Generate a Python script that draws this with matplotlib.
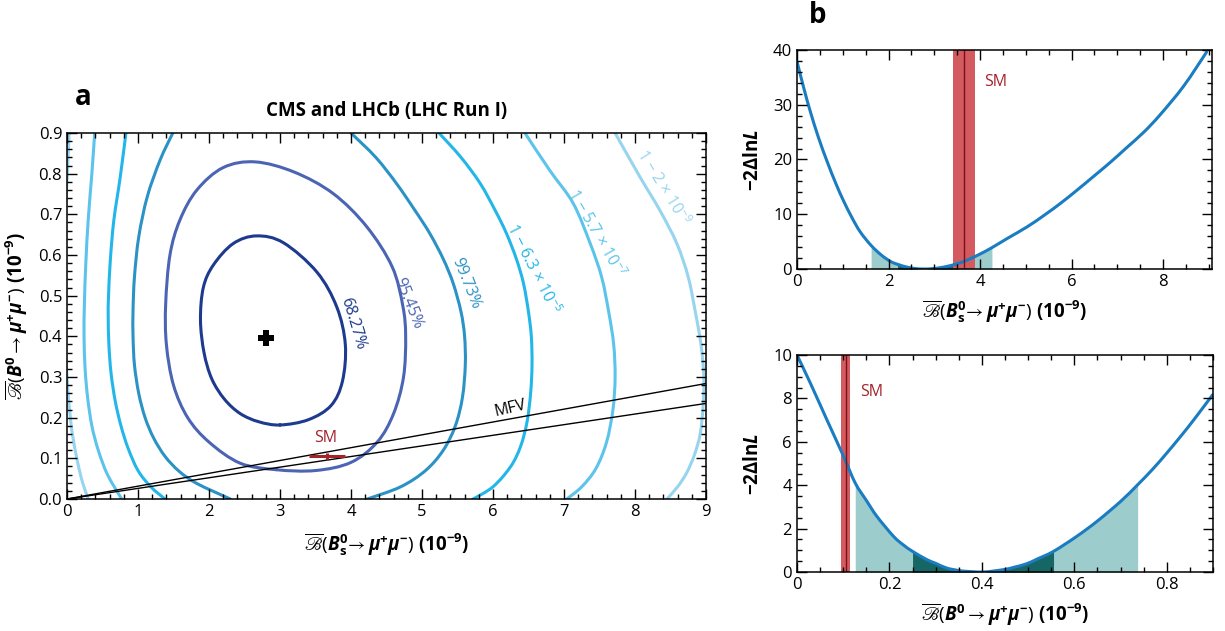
import numpy as np
import matplotlib.pyplot as plt
from matplotlib.ticker import MultipleLocator
from matplotlib.path import Path
from matplotlib.patches import PathPatch

# ---------------- data ----------------
# panel a: contour lines of the 2D likelihood (each contour = list of points)
c68_x = [3.00, 2.70, 2.44, 2.22, 2.04, 1.93, 1.88, 1.92, 2.06, 2.34, 2.67, 3.05, 3.52, 3.80, 3.92, 3.88, 3.72, 3.40, 3.00]
c68_y = [0.182, 0.190, 0.210, 0.245, 0.295, 0.360, 0.440, 0.520, 0.575, 0.628, 0.647, 0.630, 0.558, 0.472, 0.380, 0.290, 0.230, 0.195, 0.182]

c95_x = [2.95, 2.44, 2.00, 1.70, 1.50, 1.40, 1.39, 1.45, 1.59, 1.83, 2.20, 2.65, 3.20, 3.75, 4.22, 4.58, 4.73, 4.77, 4.74, 4.60, 4.37, 4.00, 3.50, 2.95]
c95_y = [0.072, 0.088, 0.140, 0.200, 0.280, 0.380, 0.480, 0.600, 0.686, 0.760, 0.815, 0.829, 0.804, 0.751, 0.670, 0.571, 0.475, 0.400, 0.300, 0.210, 0.140, 0.090, 0.070, 0.072]

c997_left_x = [1.49, 1.31, 1.13, 1.01, 0.95, 0.93, 0.93, 0.95, 1.01, 1.10, 1.22, 1.38, 1.58, 1.83, 2.30]
c997_left_y = [0.90, 0.833, 0.743, 0.644, 0.546, 0.464, 0.400, 0.330, 0.260, 0.200, 0.150, 0.105, 0.068, 0.038, 0.0]
c997_right_x = [4.00, 4.35, 4.64, 4.90, 5.11, 5.30, 5.44, 5.55, 5.60, 5.61, 5.57, 5.47, 5.30, 5.05, 4.70, 4.23]
c997_right_y = [0.90, 0.840, 0.776, 0.710, 0.653, 0.590, 0.530, 0.460, 0.400, 0.330, 0.250, 0.180, 0.120, 0.070, 0.030, 0.0]

c63_left_x = [0.83, 0.75, 0.66, 0.61, 0.585, 0.58, 0.59, 0.62, 0.68, 0.76, 0.86, 1.00, 1.18, 1.38]
c63_left_y = [0.90, 0.792, 0.686, 0.587, 0.500, 0.450, 0.380, 0.310, 0.240, 0.180, 0.125, 0.070, 0.030, 0.0]
c63_right_x = [5.24, 5.55, 5.82, 6.03, 6.19, 6.33, 6.43, 6.50, 6.54, 6.55, 6.53, 6.48, 6.39, 6.25, 6.00, 5.72]
c63_right_y = [0.90, 0.840, 0.776, 0.710, 0.653, 0.590, 0.530, 0.460, 0.400, 0.330, 0.260, 0.190, 0.130, 0.080, 0.030, 0.0]

c57_left_x = [0.39, 0.35, 0.30, 0.265, 0.245, 0.24, 0.255, 0.29, 0.35, 0.44, 0.57, 0.77]
c57_left_y = [0.90, 0.800, 0.690, 0.580, 0.480, 0.400, 0.320, 0.250, 0.180, 0.120, 0.060, 0.0]
c57_right_x = [6.45, 6.80, 7.13, 7.37, 7.53, 7.63, 7.70, 7.72, 7.69, 7.60, 7.45, 7.25, 7.04]
c57_right_y = [0.90, 0.808, 0.727, 0.628, 0.546, 0.460, 0.380, 0.300, 0.220, 0.140, 0.075, 0.030, 0.0]

c2e9_left_x = [0.03, 0.015, 0.0, -0.03, -0.045, -0.03, 0.0, 0.035, 0.08, 0.15, 0.22, 0.30]
c2e9_left_y = [0.90, 0.840, 0.780, 0.680, 0.530, 0.400, 0.300, 0.220, 0.155, 0.090, 0.040, 0.0]
c2e9_right_x = [7.72, 8.07, 8.35, 8.59, 8.75, 8.85, 8.93, 8.97, 8.96, 8.92, 8.84, 8.73, 8.60, 8.45]
c2e9_right_y = [0.90, 0.792, 0.710, 0.628, 0.546, 0.460, 0.380, 0.300, 0.230, 0.161, 0.110, 0.065, 0.030, 0.0]

contour_labels = ['68.27%', '95.45%', '99.73%', r'1 − 6.3 × 10$^{-5}$', r'1 − 5.7 × 10$^{-7}$', r'1 − 2 × 10$^{-9}$']
label_x = [4.03, 4.80, 5.62, 6.57, 7.45, 8.39]
label_y = [0.432, 0.481, 0.530, 0.567, 0.654, 0.767]

best_fit = (2.80, 0.395)
sm_point = (3.66, 0.105)
sm_xerr, sm_yerr = 0.25, 0.009
mfv_x = [0.0, 9.0]
mfv_upper = [0.0, 0.284]
mfv_lower = [0.0, 0.235]

# panel b top: profile likelihood of Bs
bs_x = [0.0, 0.15, 0.29, 0.47, 0.66, 0.85, 1.02, 1.20, 1.38, 1.62, 1.85, 2.05, 2.20, 2.40, 2.60, 2.77,
        2.95, 3.21, 3.50, 3.72, 4.00, 4.26, 4.60, 5.03, 5.40, 5.76, 6.12, 6.48, 6.85, 7.21, 7.58, 7.94, 8.45, 8.95]
bs_y = [37.9, 33.0, 28.8, 24.0, 19.6, 15.6, 12.4, 9.4, 6.8, 4.3, 2.5, 1.35, 0.85, 0.35, 0.07, 0.0,
        0.06, 0.35, 0.96, 1.63, 2.73, 3.9, 5.6, 7.7, 9.8, 12.0, 14.4, 16.9, 19.5, 22.2, 25.0, 28.2, 33.4, 39.6]
bs_2sig = (1.62, 4.26)
bs_1sig = (2.20, 3.50)
bs_sm = 3.66
bs_sm_band = (3.42, 3.90)

# panel b bottom: profile likelihood of Bd
bd_x = [0.0, 0.029, 0.065, 0.101, 0.126, 0.150, 0.173, 0.209, 0.230, 0.250, 0.281, 0.300, 0.324, 0.350, 0.368, 0.404,
        0.447, 0.470, 0.497, 0.520, 0.555, 0.605, 0.650, 0.700, 0.737, 0.770, 0.800, 0.830, 0.858, 0.899]
bd_y = [10.0, 8.7, 7.0, 5.32, 4.1, 3.3, 2.56, 1.64, 1.25, 0.95, 0.57, 0.40, 0.18, 0.07, 0.03, 0.0,
        0.11, 0.22, 0.38, 0.60, 0.95, 1.64, 2.35, 3.25, 4.02, 4.75, 5.48, 6.25, 7.0, 8.16]
bd_2sig = (0.126, 0.737)
bd_1sig = (0.250, 0.555)
bd_sm = 0.106
bd_sm_band = (0.096, 0.115)

# ---------------- style ----------------
plt.rcParams['font.family'] = ['Open Sans', 'DejaVu Sans']
plt.rcParams['mathtext.fontset'] = 'custom'
plt.rcParams['mathtext.rm'] = 'Open Sans'
plt.rcParams['mathtext.it'] = 'Open Sans:italic'
plt.rcParams['mathtext.bf'] = 'Open Sans:bold'
plt.rcParams['mathtext.bfit'] = 'Open Sans:italic:bold'
plt.rcParams['mathtext.sf'] = 'Open Sans'
plt.rcParams['mathtext.fallback'] = 'stixsans'
plt.rcParams['axes.linewidth'] = 1.1

contour_colors = ['#1d3a8e', '#4b64b3', '#2b92c6', '#22b6e9', '#5cc3ec', '#96d4ef']
curve_color = '#1a7cc1'
sm_color = '#a3232a'
band_red = '#d35a5f'
light_teal = '#9dcccc'
dark_teal = '#176666'

fig = plt.figure(figsize=(12.25, 6.31), dpi=100)


def smooth_line(ax, xs, ys, closed=False, **kw):
    # smooth curve through the read points (Catmull-Rom drawn as Bezier path)
    pts = np.column_stack([xs, ys]).astype(float)
    if closed:
        pts = pts[:-1]
    n = len(pts)
    verts, codes = [pts[0]], [Path.MOVETO]
    nseg = n if closed else n - 1
    for i in range(nseg):
        if closed:
            p0, p1, p2, p3 = pts[(i - 1) % n], pts[i], pts[(i + 1) % n], pts[(i + 2) % n]
        else:
            p0, p1, p2, p3 = pts[max(i - 1, 0)], pts[i], pts[i + 1], pts[min(i + 2, n - 1)]
        verts += [p1 + (p2 - p0) / 6, p2 - (p3 - p1) / 6, p2]
        codes += [Path.CURVE4] * 3
    ax.add_patch(PathPatch(Path(verts, codes), fill=False, capstyle='round', **kw))


def style_ticks(ax, xmaj, xmin, ymaj, ymin):
    ax.xaxis.set_major_locator(MultipleLocator(xmaj))
    ax.xaxis.set_minor_locator(MultipleLocator(xmin))
    ax.yaxis.set_major_locator(MultipleLocator(ymaj))
    ax.yaxis.set_minor_locator(MultipleLocator(ymin))
    ax.tick_params(which='both', direction='in', top=True, right=True, width=1.0, labelsize=12)
    ax.tick_params(which='major', length=7)
    ax.tick_params(which='minor', length=3.5)


bs_label = '$\\overline{\u212C}(\\mathbfit{B}_{\\mathbf{s}}^{\\mathbf{0}}\\!\\rightarrow\\mathbfit{\\mu}^{\\mathbf{+}}\\mathbfit{\\mu}^{\\mathbf{-}})\\ \\mathbf{(10^{-9})}$'
bd_label = '$\\overline{\u212C}(\\mathbfit{B}^{\\mathbf{0}}\\rightarrow\\mathbfit{\\mu}^{\\mathbf{+}}\\mathbfit{\\mu}^{\\mathbf{-}})\\ \\mathbf{(10^{-9})}$'
nll_label = r'$\mathbf{-2\Delta ln}\mathbfit{L}$'

# ---------------- panel a ----------------
ax = fig.add_axes([0.0547, 0.2092, 0.5216, 0.5800])
lw = 2.2
smooth_line(ax, c68_x, c68_y, closed=True, color=contour_colors[0], lw=lw)
smooth_line(ax, c95_x, c95_y, closed=True, color=contour_colors[1], lw=lw)
smooth_line(ax, c997_left_x, c997_left_y, color=contour_colors[2], lw=lw)
smooth_line(ax, c997_right_x, c997_right_y, color=contour_colors[2], lw=lw)
smooth_line(ax, c63_left_x, c63_left_y, color=contour_colors[3], lw=lw)
smooth_line(ax, c63_right_x, c63_right_y, color=contour_colors[3], lw=lw)
smooth_line(ax, c57_left_x, c57_left_y, color=contour_colors[4], lw=lw)
smooth_line(ax, c57_right_x, c57_right_y, color=contour_colors[4], lw=lw)
smooth_line(ax, c2e9_left_x, c2e9_left_y, color=contour_colors[5], lw=lw)
smooth_line(ax, c2e9_right_x, c2e9_right_y, color=contour_colors[5], lw=lw)

rotations = [-73, -68, -68, -63, -60, -58]
for txt, lx, ly, col, rot in zip(contour_labels, label_x, label_y, contour_colors, rotations):
    ax.text(lx, ly, txt, color=col, fontsize=11.5, rotation=rot, ha='center', va='center',
            rotation_mode='anchor')

ax.plot(mfv_x, mfv_upper, color='black', lw=1.0)
ax.plot(mfv_x, mfv_lower, color='black', lw=1.0)
ax.text(6.25, 0.222, 'MFV', fontsize=11.5, rotation=13, ha='center', va='center')

ax.plot(*best_fit, marker='P', color='black', markersize=11, markeredgewidth=0)
ax.errorbar(sm_point[0], sm_point[1], xerr=sm_xerr, yerr=sm_yerr, color=sm_color, lw=2.2, capsize=0)
ax.text(3.64, 0.15, 'SM', color=sm_color, fontsize=11.5, ha='center', va='center')

ax.set_xlim(0, 9)
ax.set_ylim(0, 0.9)
style_ticks(ax, 1, 0.2, 0.1, 0.02)
ax.yaxis.set_major_formatter(plt.FormatStrFormatter('%.1f'))
ax.set_xlabel(bs_label, fontsize=13.5, labelpad=8)
ax.set_ylabel(bd_label, fontsize=13.5, labelpad=6)
ax.set_title('CMS and LHCb (LHC Run I)', fontsize=13.5, fontweight='bold', pad=12)
fig.text(0.061, 0.845, 'a', fontsize=20, fontweight='bold', va='center')

# ---------------- panel b (top) ----------------
bx = np.array(bs_x)
by = np.array(bs_y)
ax1 = fig.add_axes([0.6506, 0.5737, 0.3388, 0.3471])
ax1.fill_between(bx, 0, by, where=(bx >= bs_2sig[0]) & (bx <= bs_2sig[1]), color=light_teal, lw=0)
ax1.fill_between(bx, 0, by, where=(bx >= bs_1sig[0]) & (bx <= bs_1sig[1]), color=dark_teal, lw=0)
ax1.axvspan(*bs_sm_band, color=band_red, lw=0)
ax1.axvline(bs_sm, color='#7a1015', lw=1.0)
smooth_line(ax1, bx, by, color=curve_color, lw=2.2)
ax1.text(4.1, 34.2, 'SM', color=sm_color, fontsize=11.5, ha='left', va='center')
ax1.set_xlim(0, 9.07)
ax1.set_ylim(0, 40)
style_ticks(ax1, 2, 0.5, 10, 2)
ax1.set_xlabel(bs_label, fontsize=13.5, labelpad=6)
ax1.set_ylabel(nll_label, fontsize=13.5, labelpad=8)
fig.text(0.66, 0.976, 'b', fontsize=20, fontweight='bold', va='center')

# ---------------- panel b (bottom) ----------------
dx = np.array(bd_x)
dy = np.array(bd_y)
ax2 = fig.add_axes([0.6506, 0.0935, 0.3396, 0.3439])
ax2.fill_between(dx, 0, dy, where=(dx >= bd_2sig[0]) & (dx <= bd_2sig[1]), color=light_teal, lw=0)
ax2.fill_between(dx, 0, dy, where=(dx >= bd_1sig[0]) & (dx <= bd_1sig[1]), color=dark_teal, lw=0)
ax2.axvspan(*bd_sm_band, color=band_red, lw=0)
ax2.axvline(bd_sm, color='#7a1015', lw=1.0)
smooth_line(ax2, dx, dy, color=curve_color, lw=2.2)
ax2.text(0.137, 8.3, 'SM', color=sm_color, fontsize=11.5, ha='left', va='center')
ax2.set_xlim(0, 0.9)
ax2.set_ylim(0, 10)
style_ticks(ax2, 0.2, 0.05, 2, 0.5)
ax2.set_xlabel(bd_label, fontsize=13.5, labelpad=6)
ax2.set_ylabel(nll_label, fontsize=13.5, labelpad=8)
ax2.xaxis.set_major_formatter(plt.FuncFormatter(lambda v, p: '0' if v == 0 else f'{v:.1f}'))

fig.savefig('out.png', dpi=100)
